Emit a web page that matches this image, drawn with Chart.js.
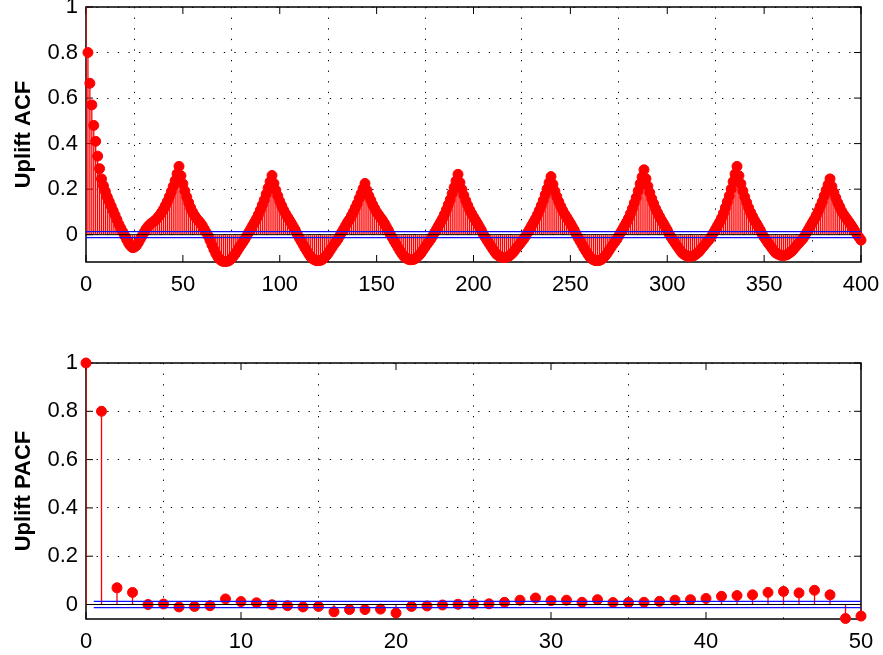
<!DOCTYPE html>
<html>
<head>
<meta charset="utf-8">
<script src="https://cdn.jsdelivr.net/npm/chart.js@4.4.1/dist/chart.umd.min.js"></script>
<style>
html,body{margin:0;padding:0;background:#fff;overflow:hidden;}
body{width:883px;height:655px;position:relative;}
#c1{position:absolute;left:0;top:-30px;}
#c2{position:absolute;left:0;top:330px;}
</style>
</head>
<body>
<canvas id="c1" width="920" height="340"></canvas>
<canvas id="c2" width="920" height="325"></canvas>
<script>
// ---------- DATA ----------
// ACF values, lags 0..400
const acfValues = [
  // 0-24
  1, 0.80, 0.665, 0.57, 0.48, 0.41, 0.345, 0.29, 0.245, 0.215, 0.19, 0.165, 0.145, 0.125, 0.105, 0.085, 0.065, 0.045, 0.028, 0.012, -0.005, -0.022, -0.038, -0.05, -0.057,
  // 25-48
  -0.055, -0.048, -0.035, -0.02, -0.005, 0.01, 0.025, 0.036, 0.045, 0.052, 0.058, 0.065, 0.075, 0.085, 0.098, 0.112, 0.128, 0.146, 0.166, 0.188, 0.212, 0.238, 0.267, 0.30,
  // 49-72
  0.259, 0.223, 0.192, 0.165, 0.141, 0.118, 0.1, 0.085, 0.072, 0.062, 0.052, 0.04, 0.025, 0.01, -0.005, -0.025, -0.045, -0.065, -0.083, -0.098, -0.108, -0.115, -0.118, -0.118,
  // 73-96
  -0.117, -0.113, -0.106, -0.096, -0.085, -0.072, -0.058, -0.045, -0.033, -0.02, -0.005, 0.01, 0.025, 0.04, 0.055, 0.07, 0.088, 0.108, 0.13, 0.152, 0.178, 0.205, 0.232, 0.26,
  // 97-120
  0.225, 0.195, 0.17, 0.147, 0.127, 0.108, 0.092, 0.078, 0.064, 0.05, 0.035, 0.02, 0.003, -0.013, -0.028, -0.043, -0.058, -0.072, -0.086, -0.098, -0.106, -0.111, -0.114, -0.114,
  // 121-144
  -0.113, -0.109, -0.102, -0.093, -0.082, -0.069, -0.056, -0.043, -0.032, -0.02, -0.005, 0.01, 0.025, 0.04, 0.055, 0.067, 0.083, 0.099, 0.118, 0.136, 0.159, 0.18, 0.202, 0.225,
  // 145-168
  0.195, 0.17, 0.151, 0.131, 0.115, 0.099, 0.087, 0.075, 0.064, 0.05, 0.035, 0.02, 0.003, -0.012, -0.027, -0.041, -0.056, -0.07, -0.083, -0.095, -0.102, -0.107, -0.11, -0.11,
  // 169-192
  -0.109, -0.105, -0.098, -0.09, -0.08, -0.067, -0.055, -0.042, -0.031, -0.019, -0.005, 0.01, 0.025, 0.04, 0.055, 0.07, 0.089, 0.109, 0.132, 0.154, 0.181, 0.208, 0.236, 0.265,
  // 193-216
  0.229, 0.199, 0.173, 0.149, 0.129, 0.109, 0.093, 0.078, 0.064, 0.05, 0.035, 0.02, 0.003, -0.011, -0.025, -0.038, -0.051, -0.064, -0.076, -0.087, -0.093, -0.098, -0.1, -0.1,
  // 217-240
  -0.099, -0.096, -0.09, -0.082, -0.073, -0.061, -0.05, -0.04, -0.029, -0.018, -0.005, 0.01, 0.025, 0.04, 0.055, 0.07, 0.087, 0.107, 0.128, 0.15, 0.175, 0.201, 0.228, 0.255,
  // 241-264
  0.221, 0.191, 0.167, 0.145, 0.125, 0.107, 0.091, 0.078, 0.064, 0.05, 0.035, 0.02, 0.003, -0.013, -0.028, -0.043, -0.058, -0.072, -0.086, -0.098, -0.106, -0.111, -0.114, -0.114,
  // 265-288
  -0.113, -0.109, -0.102, -0.093, -0.082, -0.069, -0.056, -0.043, -0.032, -0.02, -0.005, 0.01, 0.025, 0.04, 0.055, 0.072, 0.092, 0.114, 0.139, 0.163, 0.192, 0.223, 0.253, 0.285,
  // 289-312
  0.246, 0.213, 0.184, 0.158, 0.136, 0.114, 0.096, 0.08, 0.064, 0.05, 0.035, 0.02, 0.003, -0.011, -0.024, -0.037, -0.049, -0.061, -0.073, -0.083, -0.089, -0.093, -0.095, -0.095,
  // 313-336
  -0.094, -0.091, -0.085, -0.078, -0.069, -0.058, -0.048, -0.038, -0.028, -0.018, -0.005, 0.01, 0.025, 0.04, 0.055, 0.073, 0.094, 0.118, 0.144, 0.17, 0.2, 0.233, 0.266, 0.30,
  // 337-360
  0.259, 0.223, 0.192, 0.165, 0.141, 0.118, 0.098, 0.081, 0.064, 0.05, 0.035, 0.02, 0.003, -0.011, -0.023, -0.036, -0.047, -0.059, -0.07, -0.08, -0.085, -0.089, -0.091, -0.091,
  // 361-384
  -0.09, -0.087, -0.081, -0.075, -0.066, -0.056, -0.046, -0.037, -0.027, -0.018, -0.005, 0.01, 0.025, 0.04, 0.055, 0.069, 0.086, 0.104, 0.125, 0.145, 0.17, 0.195, 0.219, 0.245,
  // 385-400
  0.212, 0.185, 0.162, 0.14, 0.122, 0.104, 0.09, 0.077, 0.065, 0.053, 0.041, 0.028, 0.014, 0.0, -0.012, -0.024
];

// PACF values, lags 0..50
const pacfValues = [
  1, 0.80, 0.069, 0.05, 0.0, 0.002, -0.01, -0.008, -0.005, 0.023,
  0.012, 0.007, -0.001, -0.005, -0.01, -0.008, -0.03, -0.021, -0.021, -0.019,
  -0.035, -0.008, -0.006, -0.002, 0.001, 0.002, 0.003, 0.009, 0.018, 0.027,
  0.016, 0.018, 0.009, 0.02, 0.008, 0.008, 0.009, 0.013, 0.018, 0.02,
  0.025, 0.034, 0.037, 0.04, 0.05, 0.054, 0.048, 0.059, 0.04, -0.058, -0.048
];

const acfXTicks = [0, 50, 100, 150, 200, 250, 300, 350, 400];
const acfYTicks = [0, 0.2, 0.4, 0.6, 0.8, 1];
const pacfXTicks = [0, 10, 20, 30, 40, 50];
const pacfYTicks = [0, 0.2, 0.4, 0.6, 0.8, 1];

const acfRange = [-0.12, 1];
const pacfRange = [-0.06, 1];
const confBound = 0.013;
const acfBoundStart = 0;
const pacfBoundStart = 0.5;

const acfTitle = 'Uplift ACF';
const pacfTitle = 'Uplift PACF';

// ---------- RENDERING ----------
Chart.defaults.font.family = "'Liberation Sans', Arial, Helvetica, sans-serif";
Chart.defaults.color = '#000';

const boxPlugin = {
  id: 'matlabBox',
  beforeDatasetsDraw(chart) {
    const {ctx, chartArea: a, scales: {x, y}} = chart;
    const tl = 7;
    ctx.save();
    ctx.strokeStyle = '#000';
    ctx.lineWidth = 1;
    ctx.beginPath();
    x.ticks.forEach(t => {
      const px = x.getPixelForValue(t.value);
      ctx.moveTo(px, a.bottom); ctx.lineTo(px, a.bottom - tl);
      ctx.moveTo(px, a.top); ctx.lineTo(px, a.top + tl);
    });
    y.ticks.forEach(t => {
      const py = y.getPixelForValue(t.value);
      ctx.moveTo(a.left, py); ctx.lineTo(a.left + tl, py);
      ctx.moveTo(a.right, py); ctx.lineTo(a.right - tl, py);
    });
    ctx.stroke();
    ctx.lineWidth = 1.5;
    ctx.strokeRect(a.left, a.top, a.right - a.left, a.bottom - a.top);
    ctx.restore();
  }
};

function buildChart(canvasId, values, xTicks, yTicks, range, title, boundStart, topPad, xAxisH, hideFirstMarker) {
  const pts = values.map((v, i) => ({x: i, y: v}));
  const xMax = values.length - 1;
  return new Chart(document.getElementById(canvasId), {
    type: 'scatter',
    data: {
      datasets: [
        { // reference lines (drawn on top)
          type: 'line', order: 0, data: [{x: 0, y: 0}, {x: xMax, y: 0}],
          borderColor: '#000', borderWidth: 1, pointRadius: 0, fill: false
        },
        {
          type: 'line', order: 0, data: [{x: boundStart, y: confBound}, {x: xMax, y: confBound}],
          borderColor: '#1010ff', borderWidth: 1.2, pointRadius: 0, fill: false
        },
        {
          type: 'line', order: 0, data: [{x: boundStart, y: -confBound}, {x: xMax, y: -confBound}],
          borderColor: '#1010ff', borderWidth: 1.2, pointRadius: 0, fill: false
        },
        { // markers
          type: 'scatter', order: 1, data: pts, showLine: false,
          pointRadius: ctx => (hideFirstMarker && ctx.dataIndex === 0) ? 0 : 5,
          pointBackgroundColor: '#ff0000', pointBorderColor: '#ff0000', pointBorderWidth: 1,
          clip: false
        },
        { // stems
          type: 'bar', order: 2, data: pts,
          backgroundColor: '#ff0000', borderWidth: 0, barThickness: 1.3, inflateAmount: 0,
          grouped: false
        }
      ]
    },
    options: {
      responsive: false,
      maintainAspectRatio: false,
      animation: false,
      events: [],
      layout: { padding: { top: topPad, right: 59, left: 0, bottom: 0 } },
      plugins: { legend: { display: false }, tooltip: { enabled: false } },
      scales: {
        x: {
          type: 'linear', min: 0, max: xMax, offset: false,
          afterBuildTicks: s => { s.ticks = xTicks.map(v => ({value: v})); },
          afterFit: s => { s.height = xAxisH; },
          ticks: { padding: 10, maxRotation: 0, autoSkip: false, color: '#000', font: { size: 22 }, callback: v => String(v) },
          grid: { color: '#000', lineWidth: 1, drawTicks: false },
          border: { display: false, dash: [1.3, 9.3] }
        },
        y: {
          type: 'linear', min: range[0], max: range[1],
          afterBuildTicks: s => { s.ticks = yTicks.map(v => ({value: v})); },
          afterFit: s => { s.width = 86; },
          ticks: { padding: 8, color: '#000', font: { size: 22 }, callback: v => String(v) },
          grid: { color: '#000', lineWidth: 1, drawTicks: false },
          border: { display: false, dash: [1.3, 9.3] },
          title: { display: true, text: title, color: '#000', font: { size: 22, weight: 'bold' }, padding: { top: 11, bottom: 0 } }
        }
      }
    },
    plugins: [boxPlugin]
  });
}

buildChart('c1', acfValues, acfXTicks, acfYTicks, acfRange, acfTitle, acfBoundStart, 37, 48, true);
buildChart('c2', pacfValues, pacfXTicks, pacfYTicks, pacfRange, pacfTitle, pacfBoundStart, 33, 36, false);
</script>
</body>
</html>
